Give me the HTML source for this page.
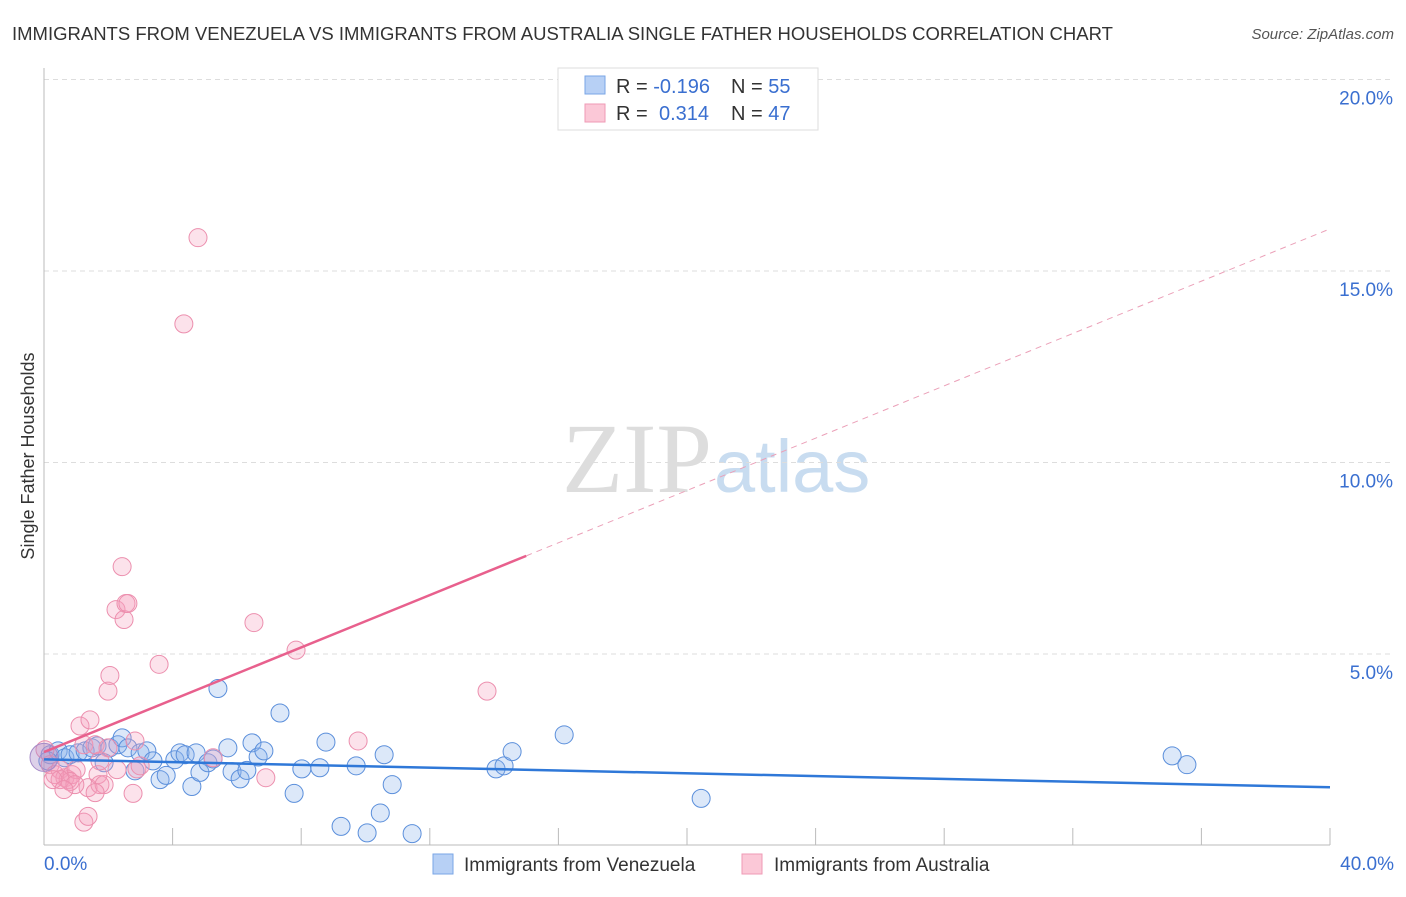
<!DOCTYPE html>
<html><head><meta charset="utf-8"><style>
body{margin:0;background:#fff;font-family:"Liberation Sans",sans-serif}
svg text{font-family:"Liberation Sans",sans-serif}
</style></head><body>
<svg id="c" width="1406" height="892">
<text x="12" y="40" font-size="18.5" fill="#333">IMMIGRANTS FROM VENEZUELA VS IMMIGRANTS FROM AUSTRALIA SINGLE FATHER HOUSEHOLDS CORRELATION CHART</text>
<text x="1394" y="39" font-size="15" fill="#555" font-style="italic" text-anchor="end">Source: ZipAtlas.com</text>
<text x="712" y="492" font-size="100" fill="#ddd" text-anchor="end" font-family="Liberation Serif" style="font-family:'Liberation Serif',serif">ZIP</text>
<text x="714" y="492" font-size="74" fill="#c8dcf0">atlas</text>
<text transform="translate(34,456) rotate(-90)" font-size="18" fill="#333" text-anchor="middle">Single Father Households</text>
<g id="grid"></g><g id="pts"></g><g id="lines"></g>
<g>
<rect x="558" y="68" width="260" height="62" fill="#fff" stroke="#ddd"/>
<rect x="585" y="76" width="20" height="18" fill="#b7d0f5" stroke="#7aa6e6"/>
<rect x="585" y="104" width="20" height="18" fill="#fbc8d7" stroke="#ef9ab5"/>
<text x="616" y="93" font-size="20" fill="#333">R = <tspan fill="#3a6fd0">-0.196</tspan><tspan x="731">N = </tspan><tspan fill="#3a6fd0">55</tspan></text>
<text x="616" y="120" font-size="20" fill="#333">R = <tspan x="659" fill="#3a6fd0">0.314</tspan><tspan x="731">N = </tspan><tspan fill="#3a6fd0">47</tspan></text>
</g>
<g>
<rect x="433" y="854" width="20" height="20" fill="#b7d0f5" stroke="#7aa6e6"/>
<text x="464" y="871" font-size="19" fill="#333">Immigrants from Venezuela</text>
<rect x="742" y="854" width="20" height="20" fill="#fbc8d7" stroke="#ef9ab5"/>
<text x="774" y="871" font-size="19" fill="#333">Immigrants from Australia</text>
</g>
</svg>
<script>
const yTicks=[5,10,15,20];
const yTickLabels=["5.0%","10.0%","15.0%","20.0%"];
const xTickLabels=["0.0%","40.0%"];
const blueX=[0.19,0.44,0.65,0.81,1.06,1.28,1.49,1.65,1.87,2.05,2.3,2.43,2.61,2.83,2.99,3.2,3.39,3.61,3.8,4.07,4.23,4.39,4.6,4.73,4.85,5.1,5.26,5.41,5.72,5.85,6.1,6.31,6.47,6.66,6.84,7.34,7.78,8.02,8.58,8.77,9.24,9.71,10.05,10.46,10.58,10.83,11.45,14.06,14.31,14.56,16.18,20.44,35.09,35.55,0.12];
const blueY=[2.37,2.47,2.29,2.37,2.42,2.47,2.55,2.6,2.16,2.55,2.63,2.81,2.55,1.95,2.42,2.47,2.21,1.72,1.83,2.24,2.42,2.37,1.54,2.42,1.91,2.16,2.26,4.1,2.55,1.93,1.74,1.96,2.68,2.31,2.47,3.46,1.36,2.0,2.03,2.7,0.5,2.08,0.33,0.85,2.37,1.59,0.31,2.0,2.08,2.45,2.89,1.23,2.34,2.11,2.21];
const pinkX=[0.03,0.19,0.34,0.5,0.65,0.75,0.87,1.0,1.12,1.24,1.37,1.43,1.59,1.68,1.74,1.87,1.99,2.24,2.27,2.43,2.49,2.55,2.61,2.77,2.83,2.89,3.58,4.35,4.79,5.26,6.53,6.9,7.84,9.77,13.78,1.24,1.37,0.81,1.99,2.05,0.5,0.96,1.59,0.28,1.74,2.99,0.62];
const pinkY=[2.5,2.11,1.85,1.98,1.77,1.72,1.85,1.98,3.12,2.63,1.51,3.28,2.63,1.85,1.59,1.59,2.55,6.16,1.98,7.28,5.9,6.32,6.32,1.36,2.73,2.0,4.73,13.62,15.87,2.29,5.82,1.77,5.1,2.73,4.03,0.61,0.76,1.67,4.03,4.44,1.72,1.59,1.38,1.72,2.21,2.08,1.46];
const blueLine=[2.25,1.52];
const pinkLine=[2.44,16.1];
const pinkSolidEnd=15;
const X=v=>44+v*32.15, Y=v=>845.5-v*38.3;
const NS="http://www.w3.org/2000/svg";
function mk(t,a,p){const e=document.createElementNS(NS,t);for(const k in a)e.setAttribute(k,a[k]);p.appendChild(e);return e;}
const svg=document.getElementById('c'),grid=document.getElementById('grid'),pts=document.getElementById('pts'),lines=document.getElementById('lines');
yTicks.forEach((t,i)=>{
 const l=mk('line',{x1:44,x2:1394,y1:Y(t),y2:Y(t),stroke:'#ddd','stroke-dasharray':'5,4'},grid);
 
 
 const tx=mk('text',{x:1393,y:Y(t)+25,'font-size':19,fill:'#3a6fd0','text-anchor':'end'},grid);
 tx.textContent=yTickLabels[i];
 
 
});
mk('line',{x1:44,x2:44,y1:68,y2:845,stroke:'#bbb'},grid);
mk('line',{x1:44,x2:1330,y1:845,y2:845,stroke:'#bbb'},grid);
for(let i=1;i<=10;i++){const xx=X(i*4);const t=mk('line',{x1:xx,x2:xx,y1:828,y2:845,stroke:'#bbb'},grid);
 
 }
[[44,'start',0],[1394,'end',1]].forEach(([x,a,i])=>{const t=mk('text',{x:x,y:870,'font-size':19,fill:'#3a6fd0','text-anchor':a},grid);t.textContent=xTickLabels[i];
 
 });
function dots(xs,ys,fill,stroke,name){xs.forEach((x,i)=>{const c=mk('circle',{cx:X(x),cy:Y(ys[i]),r:9,fill:fill,stroke:stroke,'stroke-width':1},pts);
 
 });}
dots(blueX,blueY,'rgba(140,180,235,0.3)','#5b8fdb','venezuela-point');
dots(pinkX,pinkY,'rgba(245,160,190,0.3)','#ec8fae','australia-point');
const big=mk('circle',{cx:X(0),cy:Y(2.3),r:14,fill:'rgba(170,140,200,0.4)',stroke:'#a68bc8'},pts);


const py=x=>pinkLine[0]+(pinkLine[1]-pinkLine[0])*x/40;
const bl=mk('line',{x1:X(0),y1:Y(blueLine[0]),x2:X(40),y2:Y(blueLine[1]),stroke:'#2f78d8','stroke-width':2.5},lines);


const pl=mk('line',{x1:X(0),y1:Y(py(0)),x2:X(pinkSolidEnd),y2:Y(py(pinkSolidEnd)),stroke:'#e8608d','stroke-width':2.5},lines);


const pd=mk('line',{x1:X(pinkSolidEnd),y1:Y(py(pinkSolidEnd)),x2:X(40),y2:Y(py(40)),stroke:'#eba0b8','stroke-width':1,'stroke-dasharray':'6,5'},lines);


</script>
</body></html>
